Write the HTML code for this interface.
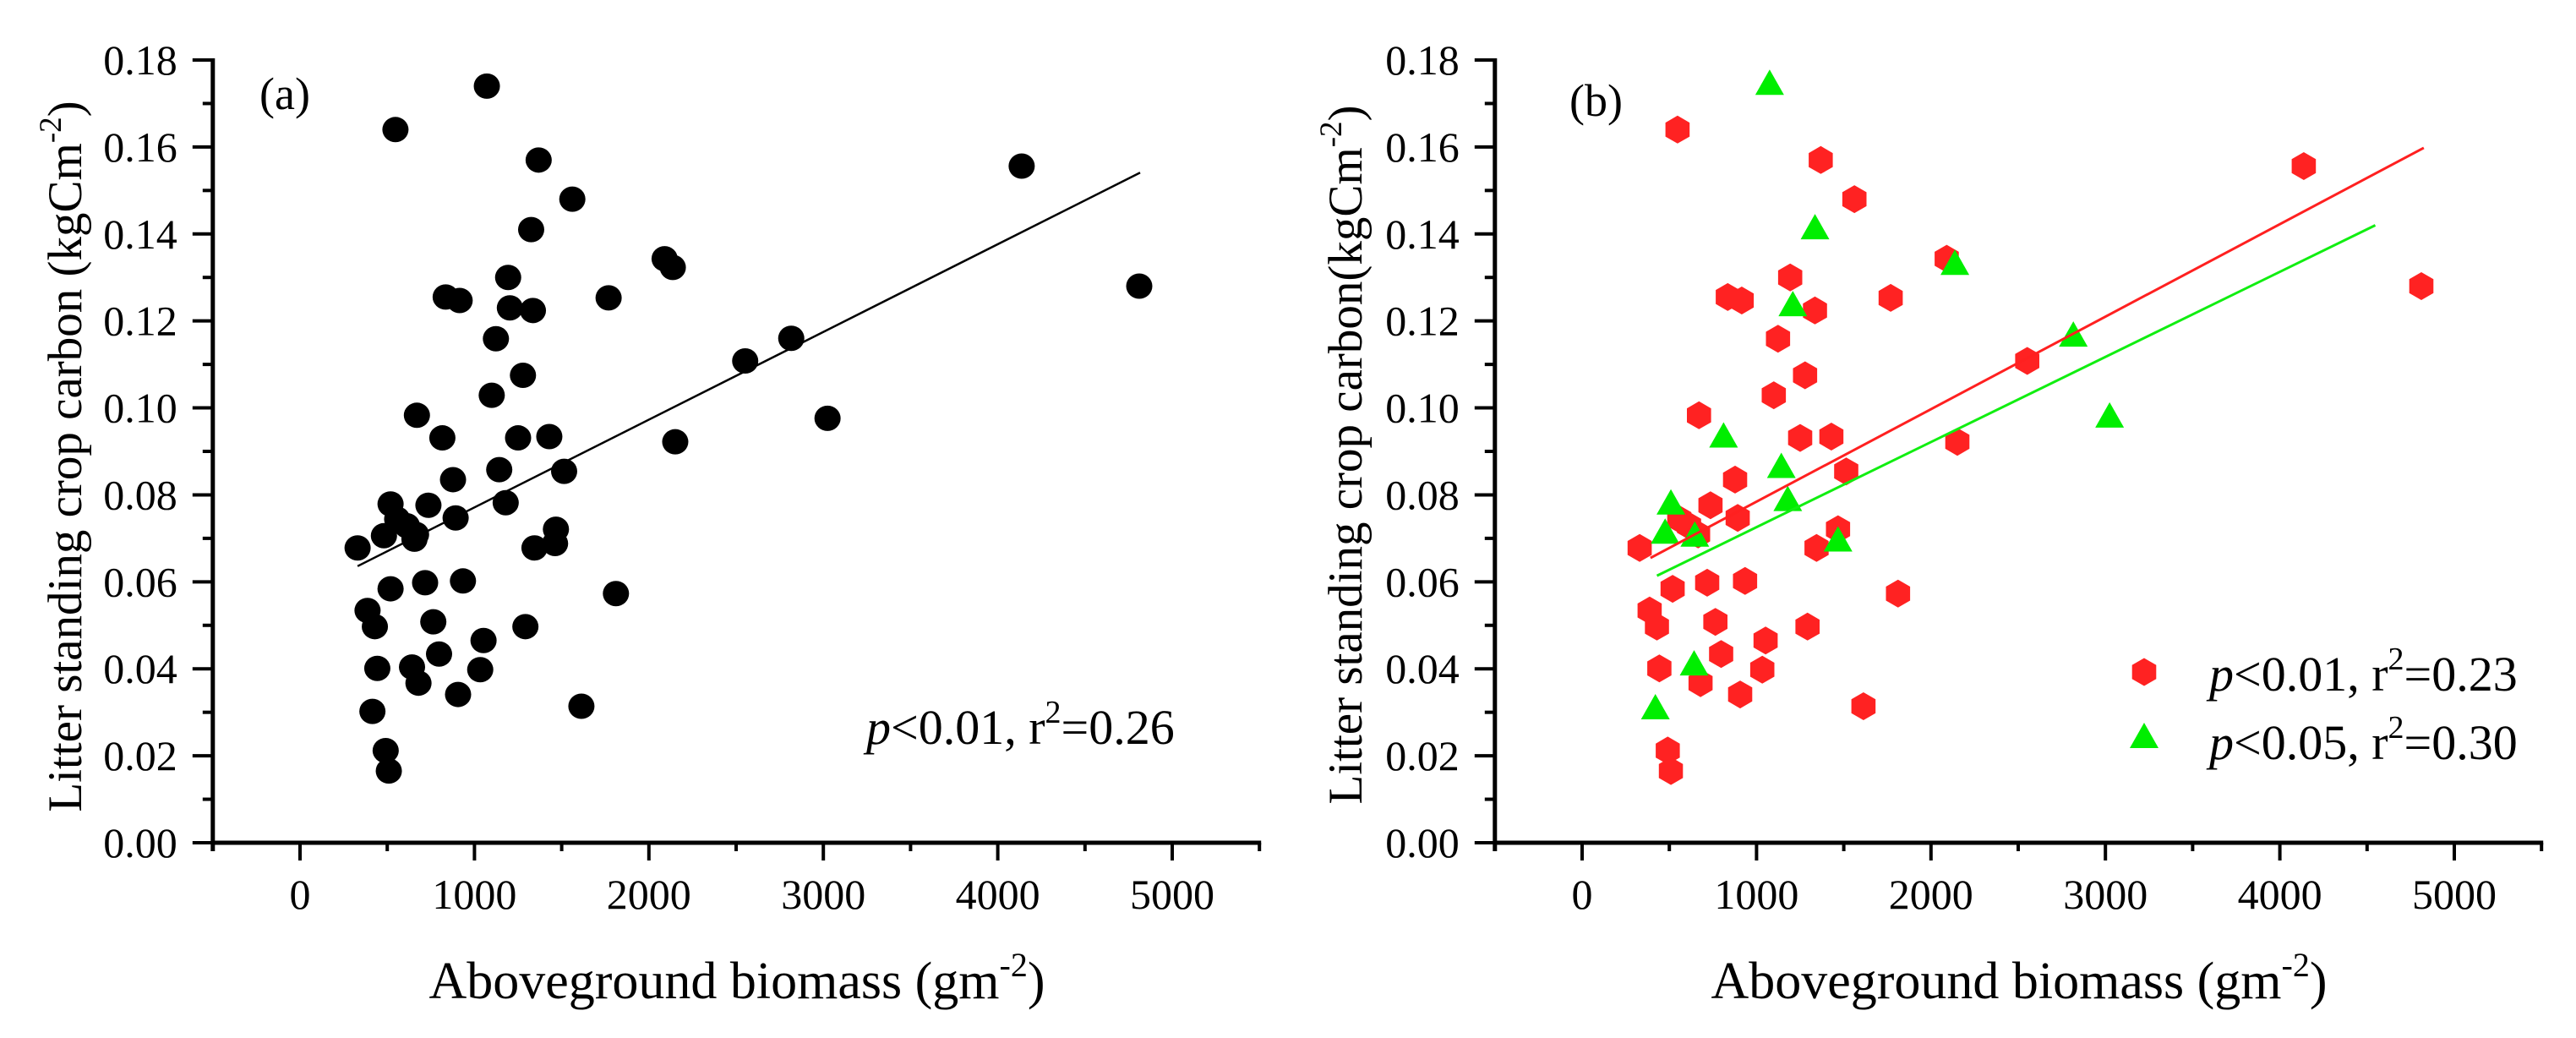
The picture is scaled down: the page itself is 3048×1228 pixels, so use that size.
<!DOCTYPE html>
<html><head><meta charset="utf-8">
<style>
html,body{margin:0;padding:0;background:#fff;}
svg{display:block;font-family:"Liberation Serif","DejaVu Serif",serif;}
</style></head>
<body>
<svg id="chart" width="3048" height="1228" viewBox="0 0 3048 1228" xmlns="http://www.w3.org/2000/svg">
<g id="pa"></g>
<g id="pb"></g>
</svg>
<script>
// ---- data ----
const xTicks = [0, 1000, 2000, 3000, 4000, 5000];
const yTicks = [0, 0.02, 0.04, 0.06, 0.08, 0.10, 0.12, 0.14, 0.16, 0.18];
const yTickLabels = ["0.00","0.02","0.04","0.06","0.08","0.10","0.12","0.14","0.16","0.18"];
const allX = [330,547,1071,1368,1561,1325,1193,835,915,1203,1335,1769,2090,2137,1123,1278,1099,670,816,1250,1429,877,1142,1514,1179,519,736,892,557,613,481,665,656,1467,1462,1344,519,717,934,1811,387,429,764,1292,1052,797,443,642,1033,679,906,1613,415,491,509,2151,2552,2816,3024,4137,4811];
const allY = [0.0678,0.164,0.174,0.157,0.148,0.141,0.130,0.1255,0.1247,0.123,0.1224,0.1253,0.1343,0.1323,0.1159,0.1075,0.1029,0.0983,0.0931,0.0931,0.0934,0.0835,0.0858,0.0854,0.0782,0.0779,0.0776,0.0747,0.0744,0.0729,0.0706,0.0709,0.0698,0.0721,0.0688,0.0678,0.0584,0.0598,0.0602,0.0573,0.0534,0.0497,0.0508,0.0497,0.0465,0.0434,0.0401,0.0404,0.0398,0.0367,0.0341,0.0314,0.0302,0.0212,0.0165,0.0922,0.1108,0.116,0.0976,0.1556,0.128];
const redX = [330,547,1368,1561,1193,835,915,1335,1769,2090,1123,1278,1099,670,1250,1429,877,1514,736,892,557,613,665,1467,1344,519,717,934,1811,387,429,764,1292,1052,797,443,1033,679,906,1613,491,509,2151,2552,4137,4811];
const redY = [0.0678,0.164,0.157,0.148,0.130,0.1255,0.1247,0.1224,0.1253,0.1343,0.1159,0.1075,0.1029,0.0983,0.0931,0.0934,0.0835,0.0854,0.0776,0.0747,0.0744,0.0729,0.0709,0.0721,0.0678,0.0584,0.0598,0.0602,0.0573,0.0534,0.0497,0.0508,0.0497,0.0465,0.0434,0.0401,0.0398,0.0367,0.0341,0.0314,0.0212,0.0165,0.0922,0.1108,0.1556,0.128];
const greenX = [1075,1335,2137,1208,2816,3024,811,1142,509,1179,476,646,1467,642,420];
const greenY = [0.1745,0.1413,0.1331,0.1236,0.1166,0.098,0.0934,0.0864,0.078,0.0788,0.0713,0.0706,0.0695,0.041,0.0309];
const fitA = [[330,0.0636],[4816,0.1541]];
const fitRed = [[392,0.0655],[4825,0.1598]];
const fitGreen = [[429,0.0614],[4547,0.142]];

const NS = "http://www.w3.org/2000/svg";
function mk(parent, tag, attrs){ const e=document.createElementNS(NS,tag); for(const k in attrs) e.setAttribute(k,attrs[k]); parent.appendChild(e); return e; }

function makeAxes(g, x0px){
  const sx = v => x0px + 103 + v*0.2064;
  const sy = v => 997 - v/0.18*926;
  const axL = sx(-500), axR = sx(5500);
  const ya = mk(g,'line',{x1:axL,y1:sy(0.18)-2,x2:axL,y2:1007,stroke:'#000','stroke-width':5});
   
  const xa = mk(g,'line',{x1:axL-2,y1:997,x2:axR+2,y2:997,stroke:'#000','stroke-width':5});
   
  for(let i=0;i<yTicks.length;i++){
    const y=sy(yTicks[i]);
    const t=mk(g,'line',{x1:axL-24,y1:y,x2:axL,y2:y,stroke:'#000','stroke-width':4});
     
    if(i<yTicks.length-1){
      const ym=sy(yTicks[i]+0.01);
      const m=mk(g,'line',{x1:axL-12,y1:ym,x2:axL,y2:ym,stroke:'#000','stroke-width':4});
       
    }
    const tl=mk(g,'text',{x:axL-42,y:y+17,'font-size':50,'text-anchor':'end'});
    tl.textContent=yTickLabels[i];
     
  }
  for(let v=-500; v<=5500; v+=500){
    const major = (v%1000===0);
    const x=sx(v);
    const t=mk(g,'line',{x1:x,y1:997,x2:x,y2:major?1018:1007,stroke:'#000','stroke-width':4});
     
  }
  for(let i=0;i<xTicks.length;i++){
    const tl=mk(g,'text',{x:sx(xTicks[i]),y:1075,'font-size':50,'text-anchor':'middle'});
    tl.textContent=String(xTicks[i]);
     
  }
  const xt=mk(g,'text',{x:x0px+620,y:1181,'font-size':62,'text-anchor':'middle'});
   
  xt.innerHTML='Aboveground biomass (gm<tspan dy="-26" font-size="40">-2</tspan><tspan dy="26">)</tspan>';
  return {sx, sy};
}

function line(g, s, pts, color, w, name){
  const l=mk(g,'line',{x1:s.sx(pts[0][0]),y1:s.sy(pts[0][1]),x2:s.sx(pts[1][0]),y2:s.sy(pts[1][1]),stroke:color,'stroke-width':w});
   
}
function hexPts(cx,cy,r){ let p=[]; for(let k=0;k<6;k++){const a=Math.PI/180*(60*k-90); p.push((cx+r*Math.cos(a)).toFixed(1)+','+(cy+r*Math.sin(a)).toFixed(1));} return p.join(' '); }
function triPts(cx,cy){ return `${cx},${cy-17} ${cx-17},${cy+13} ${cx+17},${cy+13}`; }

// ---- panel a ----
const ga=document.getElementById('pa');
const sa=makeAxes(ga,252);
(function(){
  const yt=mk(ga,'text',{transform:'translate(96,540) rotate(-90)','font-size':57,'text-anchor':'middle'});
   
  yt.innerHTML='Litter standing crop carbon (kgCm<tspan dy="-24" font-size="37">-2</tspan><tspan dy="24">)</tspan>';
})();
for(let i=0;i<allX.length;i++){
  const c=mk(ga,'ellipse',{cx:sa.sx(allX[i]),cy:sa.sy(allY[i]),rx:15.5,ry:15,fill:'#000'});
   
}
line(ga,sa,fitA,'#000',2.5,'regression-line');
(function(){
  const t=mk(ga,'text',{x:307,y:129,'font-size':54});
  t.textContent='(a)';
   
  const an=mk(ga,'text',{x:1025,y:880,'font-size':58});
  an.innerHTML='<tspan font-style="italic">p</tspan>&lt;0.01, r<tspan dy="-25" font-size="38">2</tspan><tspan dy="25">=0.26</tspan>';
   
})();

// ---- panel b ----
const gb=document.getElementById('pb');
const sb=makeAxes(gb,1769);
(function(){
  const yt=mk(gb,'text',{transform:'translate(1611,538) rotate(-90)','font-size':57,'text-anchor':'middle'});
   
  yt.innerHTML='Litter standing crop carbon(kgCm<tspan dy="-24" font-size="37">-2</tspan><tspan dy="24">)</tspan>';
})();
for(let i=0;i<redX.length;i++){
  const h=mk(gb,'polygon',{points:hexPts(sb.sx(redX[i]),sb.sy(redY[i]),16.5),fill:'#ff2222'});
   
}
for(let i=0;i<greenX.length;i++){
  const t=mk(gb,'polygon',{points:triPts(sb.sx(greenX[i]),sb.sy(greenY[i])),fill:'#00ee00'});
   
}
line(gb,sb,fitRed,'#ff2020',3,'red-regression-line');
line(gb,sb,fitGreen,'#11ee11',3,'green-regression-line');
(function(){
  const t=mk(gb,'text',{x:1857,y:137,'font-size':54});
  t.textContent='(b)';
   
  const lh=mk(gb,'polygon',{points:hexPts(2537,795,16.5),fill:'#ff2222'});
   
  const l1=mk(gb,'text',{x:2614,y:817,'font-size':58});
  l1.innerHTML='<tspan font-style="italic">p</tspan>&lt;0.01, r<tspan dy="-25" font-size="38">2</tspan><tspan dy="25">=0.23</tspan>';
   
  const lt=mk(gb,'polygon',{points:triPts(2537,872),fill:'#00ee00'});
   
  const l2=mk(gb,'text',{x:2614,y:898,'font-size':58});
  l2.innerHTML='<tspan font-style="italic">p</tspan>&lt;0.05, r<tspan dy="-25" font-size="38">2</tspan><tspan dy="25">=0.30</tspan>';
   
})();
</script>
</body></html>
